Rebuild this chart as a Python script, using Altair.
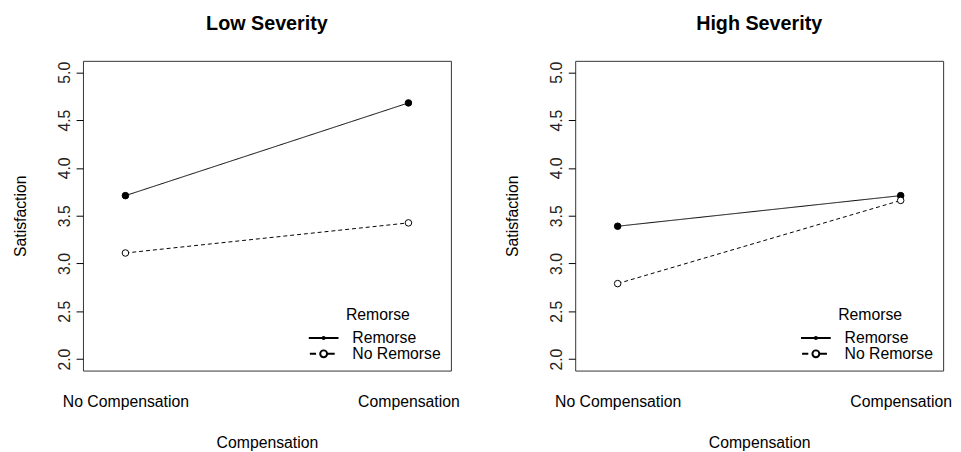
import altair as alt
import pandas as pd

# ---- data ----
panel_titles = ["Low Severity", "High Severity"]
comp_codes = [1, 2]
comp_labels = ["No Compensation", "Compensation"]
remorse_levels = ["Remorse", "No Remorse"]
low_remorse = [3.71, 4.68]
low_no_remorse = [3.11, 3.425]
high_remorse = [3.39, 3.71]
high_no_remorse = [2.79, 3.66]
y_ticks = [2.0, 2.5, 3.0, 3.5, 4.0, 4.5, 5.0]

# legend glyphs (line with point, like R's type="b" legend)
legend_paths = [
    "M-2.15,0H2.15M0.15,0A0.15,0.15,0,1,1,-0.15,0A0.15,0.15,0,1,1,0.15,0Z",
    "M-2,0H-1.1M0.5,0A0.5,0.5,0,1,1,-0.5,0A0.5,0.5,0,1,1,0.5,0ZM0.5,0H1.6",
]

FONT = "Liberation Sans"


def make_df(rem, norem):
    rows = []
    for lvl, vals in zip(remorse_levels, [rem, norem]):
        for c, v in zip(comp_codes, vals):
            rows.append({"Compensation": c, "Remorse": lvl, "Satisfaction": v})
    return pd.DataFrame(rows)


label_expr = "'' "
for c, l in zip(comp_codes, comp_labels):
    label_expr = f"datum.value == {c} ? '{l}' : ({label_expr})"


def panel(df, title):
    base = alt.Chart(df)
    x = alt.X(
        "Compensation:Q",
        scale=alt.Scale(domain=[0.85, 2.15], nice=False, zero=False),
        axis=alt.Axis(
            values=comp_codes, labelExpr=label_expr, title="Compensation",
            ticks=False, tickSize=0, domain=False, grid=False,
            labelPadding=23, titlePadding=25.7, labelFontSize=16,
            titleFontSize=16, titleFontWeight="normal", labelFlush=False,
            labelOverlap=False, labelColor="black", titleColor="black",
            labelFont=FONT, titleFont=FONT,
        ),
    )
    y = alt.Y(
        "Satisfaction:Q",
        scale=alt.Scale(domain=[1.88, 5.12], nice=False, zero=False),
        axis=alt.Axis(
            values=y_ticks, format=".1f", title="Satisfaction",
            tickSize=7, tickColor="black", tickWidth=1, labelPadding=4,
            labelAngle=270, labelAlign="center", labelBaseline="bottom",
            titlePadding=28, grid=False, domain=False, labelFontSize=16,
            titleFontSize=16, titleFontWeight="normal", labelColor="#222",
            titleColor="black", labelFont=FONT, titleFont=FONT,
            labelFlush=False, labelOverlap=False,
        ),
    )
    # data-driven domains (sorted by remorse_levels) so these scales do not
    # merge with the legend-carrying shape scale
    lines = base.mark_line(color="black", strokeWidth=1).encode(
        x=x, y=y,
        strokeDash=alt.StrokeDash(
            "Remorse:N", sort=remorse_levels,
            scale=alt.Scale(range=[[1, 0], [4, 3]]),
            legend=None,
        ),
    )
    points = base.mark_circle(size=44, opacity=1, stroke="black", strokeWidth=1).encode(
        x=x, y=y,
        fill=alt.Fill(
            "Remorse:N", sort=remorse_levels,
            scale=alt.Scale(range=["black", "white"]),
            legend=None,
        ),
    )
    # invisible layer that only carries the legend
    leg = base.mark_point(size=196, opacity=1, strokeOpacity=0, fillOpacity=0,
                          color="black", filled=False).encode(
        x=x, y=y,
        shape=alt.Shape(
            "Remorse:N",
            scale=alt.Scale(domain=remorse_levels, range=legend_paths),
            legend=alt.Legend(
                title="Remorse", orient="none", legendX=236, legendY=250,
                titleFontSize=16, titleFontWeight="normal", titleAnchor="middle",
                titlePadding=7, labelFontSize=16, labelOffset=21,
                symbolSize=196, symbolStrokeWidth=2, symbolStrokeColor="black",
                symbolFillColor="white", symbolOpacity=1, padding=0, rowPadding=-1,
                labelColor="black", titleColor="black", labelFont=FONT,
                titleFont=FONT,
            ),
        ),
    )
    return alt.layer(lines, points, leg).properties(
        width=373, height=314,
        title=alt.Title(title, fontSize=20, fontWeight="bold", offset=27,
                        frame="group", anchor="middle", font=FONT, color="black"),
    )


left = panel(make_df(low_remorse, low_no_remorse), panel_titles[0])
right = panel(make_df(high_remorse, high_no_remorse), panel_titles[1])

chart = (
    alt.hconcat(left, right, spacing=44,
                padding={"left": 4, "top": 2.5, "right": 0, "bottom": 0})
    .resolve_scale(shape="independent", fill="independent", strokeDash="independent")
    .resolve_legend(shape="independent")
    .configure(font=FONT)
    .configure_view(stroke="#333", strokeWidth=1)
)

chart.save("out.html", embed_options={"renderer": "svg", "actions": False})
